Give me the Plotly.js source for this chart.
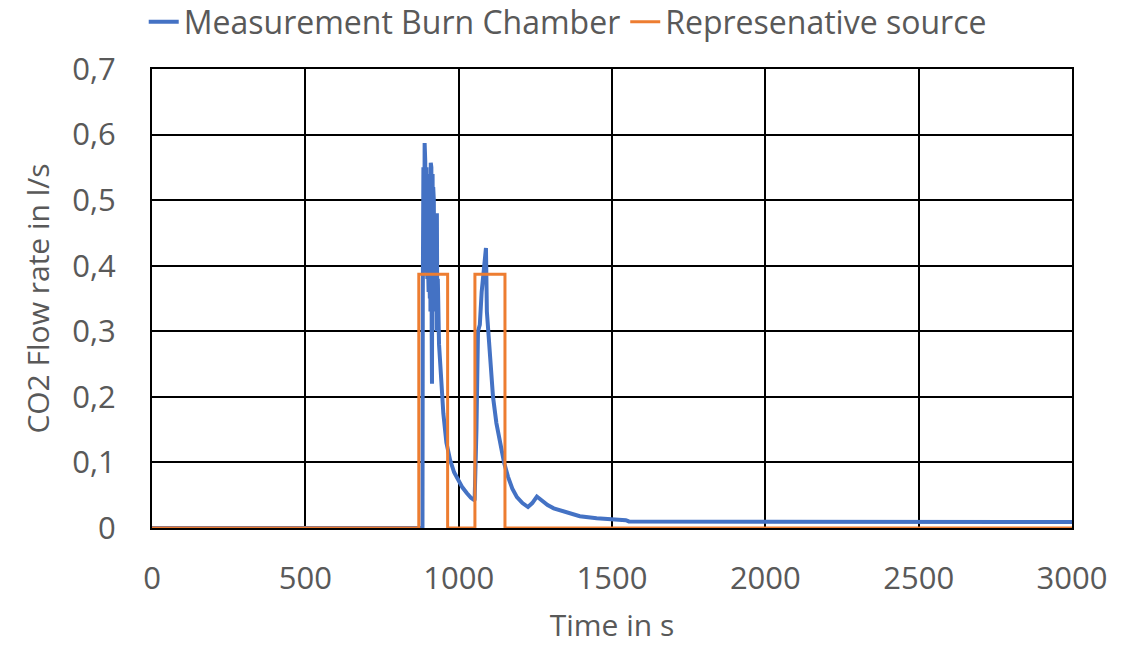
<!DOCTYPE html>
<html>
<head>
<meta charset="utf-8">
<script src="https://cdn.plot.ly/plotly-3.0.1.min.js"></script>
<style>html,body{margin:0;padding:0;background:#fff;}#chart{width:1140px;height:648px;}</style>
</head>
<body>
<div id="chart"></div>
<script>
const measTime = [0, 860, 882, 883, 885, 886, 887, 888, 889, 890, 891, 892, 893, 894, 895, 896, 897, 898, 899, 900, 901, 902, 903, 904, 905, 906, 907, 908, 909, 910, 911, 912, 913, 914, 915, 916, 917, 918, 919, 920, 921, 922, 923, 924, 925, 926, 927, 928, 929, 930, 932, 934, 936, 940, 950, 960, 972, 985, 998, 1012, 1027, 1040, 1052, 1058, 1063, 1069, 1075, 1082, 1089, 1092, 1097, 1104, 1112, 1123, 1135, 1148, 1161, 1175, 1190, 1208, 1226, 1240, 1255, 1270, 1290, 1310, 1330, 1360, 1395, 1450, 1500, 1545, 1555, 2000, 2500, 3000];
const measFlow = [0, 0, 0.0, 0.35, 0.55, 0.40, 0.52, 0.39, 0.587, 0.42, 0.56, 0.40, 0.53, 0.39, 0.55, 0.40, 0.51, 0.38, 0.54, 0.40, 0.50, 0.36, 0.52, 0.40, 0.48, 0.35, 0.50, 0.33, 0.557, 0.40, 0.55, 0.30, 0.22, 0.50, 0.54, 0.38, 0.52, 0.40, 0.50, 0.35, 0.48, 0.38, 0.46, 0.33, 0.48, 0.36, 0.45, 0.30, 0.48, 0.35, 0.38, 0.30, 0.28, 0.25, 0.175, 0.13, 0.104, 0.085, 0.073, 0.062, 0.053, 0.046, 0.042, 0.15, 0.30, 0.31, 0.36, 0.40, 0.427, 0.33, 0.30, 0.25, 0.20, 0.16, 0.13, 0.10, 0.078, 0.06, 0.047, 0.038, 0.032, 0.038, 0.048, 0.042, 0.035, 0.030, 0.027, 0.022, 0.018, 0.015, 0.013, 0.012, 0.010, 0.010, 0.010, 0.009];
const srcTime = [0, 870, 870, 964, 964, 1053, 1053, 1151, 1151, 3000];
const srcFlow = [0, 0, 0.387, 0.387, 0, 0, 0.387, 0.387, 0, 0];
const seriesNames = ["Measurement Burn Chamber", "Represenative source"];
const xTicks = [0, 500, 1000, 1500, 2000, 2500, 3000];
const yTicks = [0, 0.1, 0.2, 0.3, 0.4, 0.5, 0.6, 0.7];

const fam = "Open Sans, Liberation Sans, sans-serif";
const tickFont = {family: fam, size: 31, color: "#595959"};
const titleFont = {family: fam, size: 30, color: "#595959"};
const traces = [
  {x: measTime, y: measFlow, name: seriesNames[0], mode: "lines", line: {color: "#4472C4", width: 4}},
  {x: srcTime, y: srcFlow, name: seriesNames[1], mode: "lines", line: {color: "#ED7D31", width: 3}}
];
const layout = {
  width: 1140, height: 648,
  margin: {l: 152, r: 68, t: 69, b: 120, autoexpand: false},
  paper_bgcolor: "#fff", plot_bgcolor: "#fff",
  separators: ",.",
  font: tickFont,
  showlegend: true,
  legend: {orientation: "h", xref: "container", yref: "container", x: 0.498, xanchor: "center", y: 0.966, yanchor: "middle", font: {family: fam, size: 32, color: "#595959"}, tracegroupgap: 0},
  xaxis: {range: [0, 3000], tickvals: xTicks, showgrid: true, gridcolor: "#000", gridwidth: 2, showline: true, linecolor: "#000", linewidth: 2, mirror: true, zeroline: false, ticks: "", ticklabelstandoff: 22, tickfont: tickFont, title: {text: "Time in s", font: titleFont, standoff: 18}},
  yaxis: {range: [0, 0.7], tickvals: yTicks, showgrid: true, gridcolor: "#000", gridwidth: 2, showline: true, linecolor: "#000", linewidth: 2, mirror: true, zeroline: false, ticks: "", ticklabelstandoff: 28, tickfont: tickFont, title: {text: "CO2 Flow rate in l/s", font: titleFont, standoff: 14}}
};
Plotly.newPlot("chart", traces, layout, {displayModeBar: false, staticPlot: true});
</script>
</body>
</html>
